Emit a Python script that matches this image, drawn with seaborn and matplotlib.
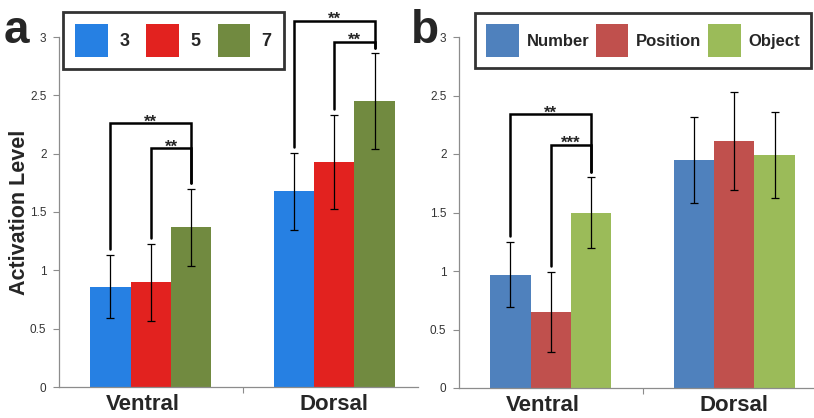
import pandas as pd
import matplotlib.pyplot as plt
import matplotlib.transforms as mtransforms
import seaborn as sns
from matplotlib.patches import Patch
from matplotlib.ticker import FuncFormatter, FixedLocator

# ---- data ----
regions = ["Ventral", "Dorsal"]

# panel a: set size
levels_a = ["3", "5", "7"]
mean_a_3 = [0.86, 1.68]
mean_a_5 = [0.90, 1.93]
mean_a_7 = [1.37, 2.45]
err_a_3 = [0.27, 0.33]
err_a_5 = [0.33, 0.40]
err_a_7 = [0.33, 0.41]
colors_a = ["#2680E3", "#E2221F", "#718A40"]

# panel b: task
levels_b = ["Number", "Position", "Object"]
mean_b_num = [0.97, 1.95]
mean_b_pos = [0.65, 2.11]
mean_b_obj = [1.50, 1.99]
err_b_num = [0.28, 0.37]
err_b_pos = [0.34, 0.42]
err_b_obj = [0.30, 0.37]
colors_b = ["#4F81BD", "#C0504D", "#9BBB59"]

# significance brackets: (region index, left bar, right bar, top height, label)
brackets_a = [(0, 0, 2, 2.26, "**"), (0, 1, 2, 2.05, "**"),
              (1, 0, 2, 3.14, "**"), (1, 1, 2, 2.96, "**")]
brackets_b = [(0, 0, 2, 2.34, "**"), (0, 1, 2, 2.08, "***")]

sns.set_style("white")
plt.rcParams['font.family'] = ['Liberation Sans', 'DejaVu Sans']

fig = plt.figure(figsize=(8.14, 4.18), dpi=100)
W, H = 814, 418
cat_px = 183.5


def make_ax(left, right, bottom, top):
    ax = fig.add_axes([left / W, (H - bottom) / H, (right - left) / W, (bottom - top) / H])
    ax.set_xlim(-0.5, -0.5 + (right - left) / cat_px)
    return ax


def draw_panel(ax, levels, means, errs, colors, brackets):
    rows = []
    for lev, m in zip(levels, means):
        for r, v in zip(regions, m):
            rows.append({"Region": r, "Level": lev, "Value": v})
    df = pd.DataFrame(rows)
    xlim = ax.get_xlim()
    sns.barplot(data=df, x="Region", y="Value", hue="Level", hue_order=levels,
                palette=colors, width=0.662, errorbar=None, ax=ax,
                legend=False, saturation=1, linewidth=0)
    ax.set_xlim(*xlim)
    ax.set_ylim(0, 3)

    centers = []
    for cont, e in zip(ax.containers, errs):
        xs = [p.get_x() + p.get_width() / 2 for p in cont]
        ys = [p.get_height() for p in cont]
        centers.append(list(zip(xs, ys, e)))
        ax.errorbar(xs, ys, yerr=e, fmt='none', ecolor='black', elinewidth=0.9,
                    capsize=2.6, capthick=0.9, zorder=4)

    for reg, lb, rb, top, lab in brackets:
        xl, yl, el = centers[lb][reg]
        xr, yr, er = centers[rb][reg]
        ax.plot([xl, xl, xr, xr], [yl + el + 0.05, top, top, yr + er + 0.05],
                color='black', lw=1.8, clip_on=False, zorder=5,
                solid_joinstyle='miter')
        ax.text((xl + xr) / 2, top - 0.03, lab, ha='center', va='baseline',
                fontsize=12, fontweight='bold', clip_on=False)

    for s in ["top", "right"]:
        ax.spines[s].set_visible(False)
    for s in ["left", "bottom"]:
        ax.spines[s].set_color("#8c8c8c")
        ax.spines[s].set_linewidth(0.9)
    ax.yaxis.set_major_locator(FixedLocator([0, 0.5, 1, 1.5, 2, 2.5, 3]))
    ax.yaxis.set_major_formatter(FuncFormatter(lambda v, p: f"{v:g}"))
    ax.tick_params(axis='y', left=True, length=4, width=0.8, color="#8c8c8c",
                   labelsize=8.5, labelcolor="#333333", pad=5)
    ax.tick_params(axis='x', length=0, pad=5)
    shift = mtransforms.ScaledTranslation(-8 / 100, 0, fig.dpi_scale_trans)
    for i, t in enumerate(ax.get_xticklabels()):
        t.set_fontsize(16)
        t.set_fontweight('bold')
        if i == 0:
            t.set_transform(t.get_transform() + shift)
    ax.set_xticks([0.5], minor=True)
    ax.tick_params(axis='x', which='minor', bottom=True, length=4, width=0.8,
                   color="#8c8c8c")
    ax.set_xlabel("")
    ax.set_ylabel("")


ax_a = make_ax(59, 418, 387, 37)
draw_panel(ax_a, levels_a, [mean_a_3, mean_a_5, mean_a_7],
           [err_a_3, err_a_5, err_a_7], colors_a, brackets_a)
ax_a.set_ylabel("Activation Level", fontsize=15.5, fontweight='bold')
ax_a.yaxis.set_label_coords(-0.082, 0.5)

ax_b = make_ax(459, 826, 388, 37)
draw_panel(ax_b, levels_b, [mean_b_num, mean_b_pos, mean_b_obj],
           [err_b_num, err_b_pos, err_b_obj], colors_b, brackets_b)

# legends: (levels, colours, box x, y, w, h in px, font size, textpad, colspacing)
legend_cfg = [
    (levels_a, colors_a, (64, 10, 219, 61), 13, 0.63, 0.95),
    (levels_b, colors_b, (477, 10, 332, 61), 12, 0.45, 0.4),
]
for levels, colors, box, fs, tpad, cspace in legend_cfg:
    handles = [Patch(facecolor=c, edgecolor='none') for c in colors]
    x0, y0, w, h = box
    hl = 23.5 / fs
    hh = (23.5 - 0.35 * 0.7 * fs) / (0.65 * fs)
    leg = fig.legend(handles, levels, ncol=3, loc='center',
                     bbox_to_anchor=((x0 + w / 2) / W, (H - y0 - h / 2) / H),
                     prop={'weight': 'bold', 'size': fs},
                     handlelength=hl, handleheight=hh, handletextpad=tpad,
                     columnspacing=cspace,
                     frameon=True, fancybox=False, borderpad=0.7)
    leg.get_frame().set_edgecolor('black')
    leg.get_frame().set_linewidth(2)

fig.text(4 / W, (H - 43) / H, "a", fontsize=33, fontweight='bold', va='baseline')
fig.text(411 / W, (H - 43) / H, "b", fontsize=33, fontweight='bold', va='baseline')

fig.savefig("out.png", dpi=100)
